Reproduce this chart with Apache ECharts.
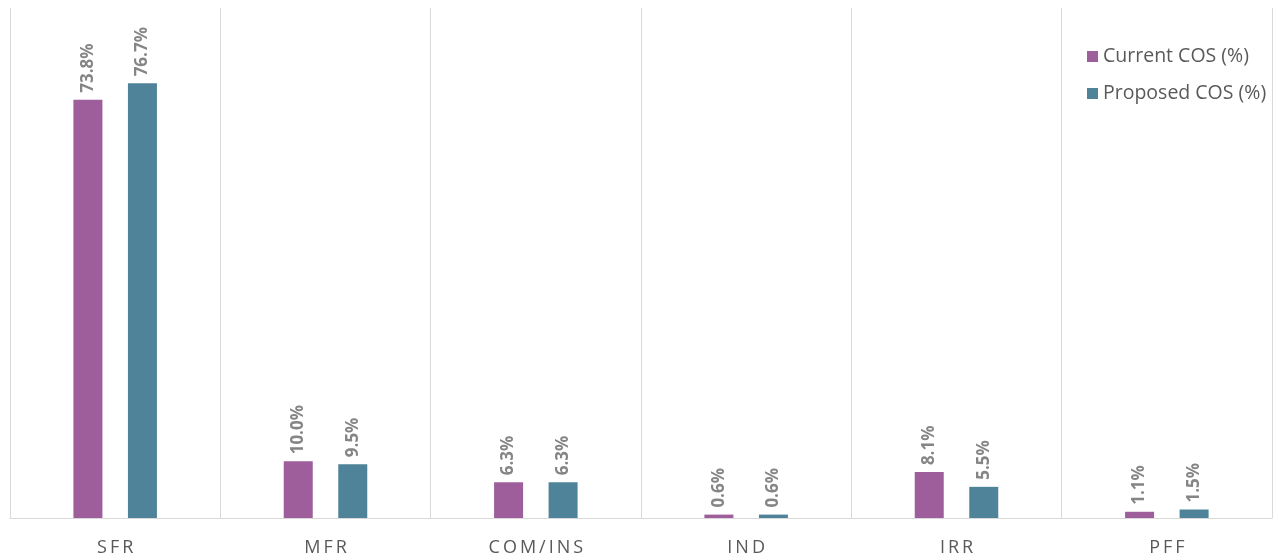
<!DOCTYPE html>
<html>
<head>
<meta charset="utf-8">
<script src="https://cdn.jsdelivr.net/npm/echarts@6/dist/echarts.min.js"></script>
<style>
  html, body { margin: 0; padding: 0; background: #ffffff; }
  #chart { width: 1278px; height: 560px; }
</style>
</head>
<body>
<div id="chart"></div>
<script>
// Cost-of-service share by customer class
const categories = ['SFR', 'MFR', 'COM/INS', 'IND', 'IRR', 'PFF'];
const currentCOS = [73.8, 10.0, 6.3, 0.6, 8.1, 1.1];
const proposedCOS = [76.7, 9.5, 6.3, 0.6, 5.5, 1.5];
const seriesNames = ['Current COS (%)', 'Proposed COS (%)'];

const FONT = '"Open Sans", Lato, sans-serif';

const labelStyle = {
  show: true,
  position: 'top',
  rotate: 90,
  align: 'left',
  verticalAlign: 'middle',
  distance: 7,
  color: '#858585',
  fontFamily: FONT,
  fontWeight: 'bold',
  fontSize: 17,
  formatter: p => p.value.toFixed(1) + '%'
};

const chart = echarts.init(document.getElementById('chart'));
chart.setOption({
  animation: false,
  grid: { left: 10, right: 6, top: 8, bottom: 42 },
  legend: {
    orient: 'vertical',
    left: 1082,
    top: 41,
    itemWidth: 11,
    itemHeight: 11,
    itemGap: 16,
    itemStyle: { borderWidth: 0 },
    icon: 'rect',
    textStyle: { color: '#595959', fontFamily: FONT, fontSize: 19.5, lineHeight: 21 },
    data: seriesNames
  },
  xAxis: {
    type: 'category',
    data: categories,
    axisLine: { show: true, lineStyle: { color: '#d9d9d9', width: 1 } },
    axisTick: { show: false },
    splitLine: { show: true, interval: 0, lineStyle: { color: '#d9d9d9', width: 1 } },
    axisLabel: {
      color: '#595959',
      fontFamily: FONT,
      fontSize: 18,
      margin: 21,
      formatter: v => v.split('').join('\u2009')
    }
  },
  yAxis: {
    type: 'value',
    min: 0,
    max: 90,
    show: false,
    splitLine: { show: false }
  },
  series: [
    {
      name: seriesNames[0],
      type: 'bar',
      data: currentCOS,
      barWidth: 29,
      barGap: '88%',
      itemStyle: { color: '#9e5e9b' },
      label: labelStyle
    },
    {
      name: seriesNames[1],
      type: 'bar',
      data: proposedCOS,
      barWidth: 29,
      itemStyle: { color: '#4f8399' },
      label: labelStyle
    }
  ]
});
</script>
</body>
</html>
